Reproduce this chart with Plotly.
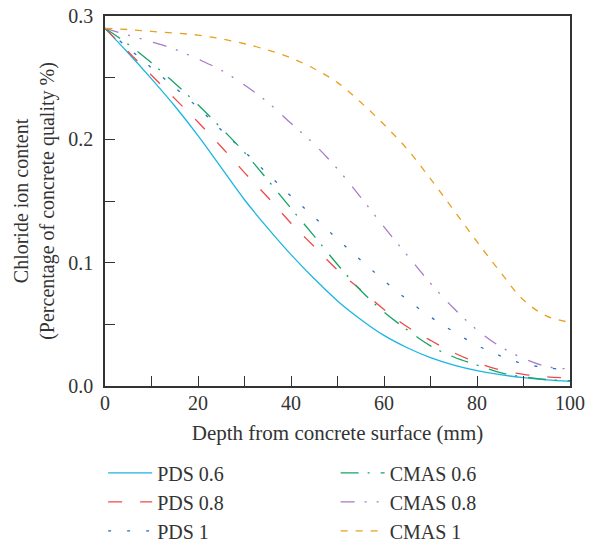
import plotly.graph_objects as go

depth = [0, 5, 10, 15, 20, 25, 30, 35, 40, 45, 50, 55, 60, 65, 70, 75, 80, 85, 90, 95, 100]

pds_06 = [0.290, 0.270, 0.249, 0.227, 0.203, 0.177, 0.151, 0.128, 0.1065, 0.087, 0.069, 0.054,
          0.041, 0.031, 0.023, 0.017, 0.0125, 0.0092, 0.0068, 0.005, 0.0038]
pds_08 = [0.290, 0.271, 0.252, 0.233, 0.214, 0.194, 0.173, 0.153, 0.132, 0.113, 0.094, 0.078,
          0.062, 0.048, 0.037, 0.027, 0.019, 0.013, 0.0095, 0.0075, 0.0063]
pds_1 = [0.290, 0.274, 0.258, 0.242, 0.2257, 0.2075, 0.190, 0.172, 0.154, 0.137, 0.119, 0.102,
         0.0855, 0.070, 0.056, 0.044, 0.033, 0.0245, 0.018, 0.0148, 0.013]
cmas_06 = [0.290, 0.277, 0.262, 0.2455, 0.228, 0.209, 0.1894, 0.167, 0.144, 0.1215, 0.0985, 0.0775,
           0.060, 0.0455, 0.0325, 0.0235, 0.017, 0.0108, 0.0075, 0.0052, 0.0043]
cmas_08 = [0.290, 0.2844, 0.279, 0.273, 0.265, 0.256, 0.244, 0.230, 0.213, 0.196, 0.176, 0.153,
           0.129, 0.106, 0.0833, 0.063, 0.0455, 0.032, 0.0224, 0.0158, 0.0138]
cmas_1 = [0.290, 0.289, 0.2875, 0.2862, 0.2845, 0.2815, 0.2775, 0.2725, 0.266, 0.2572, 0.246, 0.230,
          0.212, 0.192, 0.168, 0.1425, 0.117, 0.0925, 0.0697, 0.0567, 0.0516]

names = ["PDS 0.6", "PDS 0.8", "PDS 1", "CMAS 0.6", "CMAS 0.8", "CMAS 1"]
series = [pds_06, pds_08, pds_1, cmas_06, cmas_08, cmas_1]
colors = ["#1BB5E3", "#F04848", "#2B6CC4", "#14A565", "#A77BC8", "#E8A020"]
dashes = ["solid", "14px,18px", "3px,16px", "18px,9px,2px,11px",
          "14px,10px,2px,10px,2px,12px", "7px,8px"]
legends = ["legend", "legend", "legend", "legend2", "legend2", "legend2"]

FONT = "Liberation Serif, Times New Roman, serif"

fig = go.Figure()
for nm, ys, c, d, lg in zip(names, series, colors, dashes, legends):
    fig.add_trace(go.Scatter(
        x=depth, y=ys, name=nm, mode="lines",
        line=dict(color=c, width=1.3, dash=d, shape="spline", smoothing=1.0),
        legend=lg,
    ))

axis_common = dict(
    showgrid=False, zeroline=False, showline=True, mirror=True,
    linecolor="#333333", linewidth=1.5,
    ticks="inside", ticklen=10, tickwidth=1.3, tickcolor="#333333",
    tickfont=dict(family=FONT, size=20, color="#333333"),
)

fig.update_xaxes(
    range=[0, 100], dtick=20, tick0=0,
    minor=dict(dtick=10, ticks="inside", ticklen=10, tickwidth=1.3, tickcolor="#333333"),
    title=dict(text="Depth from concrete surface (mm)",
               font=dict(family=FONT, size=21, color="#333333"), standoff=13),
    ticklabelstandoff=-2,
    **axis_common,
)
fig.update_yaxes(
    range=[0, 0.3], dtick=0.1, tick0=0, tickformat=".1f",
    minor=dict(dtick=0.05, ticks="inside", ticklen=10, tickwidth=1.3, tickcolor="#333333"),
    title=dict(text="Chloride ion content<br>(Percentage of concrete quality %)",
               font=dict(family=FONT, size=20, color="#333333"), standoff=8),
    ticklabelstandoff=6,
    **axis_common,
)

leg_common = dict(
    orientation="v", xanchor="left", yanchor="top", y=-0.182,
    font=dict(family=FONT, size=20, color="#333333"),
    bgcolor="rgba(0,0,0,0)", borderwidth=0, itemwidth=44,
)

fig.update_layout(
    width=598, height=542,
    margin=dict(l=105, r=28, t=16, b=156, autoexpand=False),
    paper_bgcolor="white", plot_bgcolor="white",
    showlegend=True,
    legend=dict(x=-0.004, **leg_common),
    legend2=dict(x=0.496, **leg_common),
)

fig.write_html("out.html")
